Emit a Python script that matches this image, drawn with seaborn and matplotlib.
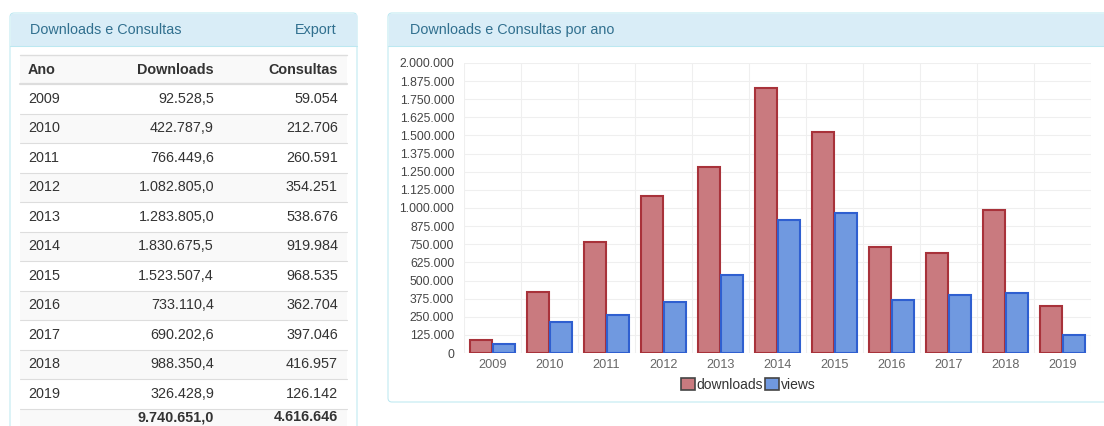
import numpy as np
import matplotlib
matplotlib.use("Agg")
import matplotlib.pyplot as plt
import pandas as pd
import seaborn as sns
from matplotlib.patches import FancyBboxPatch, Rectangle
from matplotlib.ticker import FuncFormatter, MultipleLocator

# dados da tabela / grafico
anos = ["2009", "2010", "2011", "2012", "2013", "2014", "2015", "2016", "2017", "2018", "2019"]
downloads = [92528.5, 422787.9, 766449.6, 1082805.0, 1283805.0, 1830675.5,
             1523507.4, 733110.4, 690202.6, 988350.4, 326428.9]
consultas = [59054, 212706, 260591, 354251, 538676, 919984,
             968535, 362704, 397046, 416957, 126142]
total_downloads = "9.740.651,0"
total_consultas = "4.616.646"
series = ["downloads", "views"]

sns.set_theme(style="white")
plt.rcParams["font.family"] = ["Liberation Sans", "DejaVu Sans"]


def fmt_br(v, casas=0):
    s = f"{v:,.{casas}f}"
    return s.replace(",", "X").replace(".", ",").replace("X", ".")


W, H = 1104, 426
fig = plt.figure(figsize=(W / 100, H / 100), dpi=100)
fig.patch.set_facecolor("white")

# fundo em coordenadas de pixel
bg = fig.add_axes([0, 0, 1, 1])
bg.set_xlim(0, W)
bg.set_ylim(H, 0)
bg.axis("off")

borda = "#bce8f1"
cab = "#d9edf7"
txt_cab = "#31708f"
fs = 10.4

# painel esquerdo
bg.add_patch(FancyBboxPatch((10, 13), 347, 440, boxstyle="round,pad=0,rounding_size=4",
                            fc="white", ec=borda, lw=0.75))
bg.add_patch(Rectangle((10.5, 13.5), 346, 33, fc=cab, ec="none"))
bg.plot([10, 357], [46, 46], color=borda, lw=0.75)
bg.text(30, 30, "Downloads e Consultas", fontsize=fs, color=txt_cab, va="center")
bg.text(337, 30, "Export", fontsize=fs, color=txt_cab, va="center", ha="right")

# tabela
x0, x1 = 20, 347
top_cab = 55
alt = 29.5
bg.add_patch(Rectangle((x0, top_cab), x1 - x0, 84 - top_cab, fc="#f9f9f9", ec="none"))
bg.plot([x0, x1], [top_cab, top_cab], color="#dddddd", lw=1)
bg.text(28, 70, "Ano", fontsize=fs, weight="bold", color="#333333", va="center")
bg.text(214, 70, "Downloads", fontsize=fs, weight="bold", color="#333333", va="center", ha="right")
bg.text(338, 70, "Consultas", fontsize=fs, weight="bold", color="#333333", va="center", ha="right")

linhas = [(a, fmt_br(d, 1), fmt_br(c)) for a, d, c in zip(anos, downloads, consultas)]
linhas.append(("", total_downloads, total_consultas))
for i, (a, d, c) in enumerate(linhas):
    y = 84 + alt * i
    if i % 2 == 1:
        bg.add_patch(Rectangle((x0, y), x1 - x0, alt, fc="#f9f9f9", ec="none"))
    bg.plot([x0, x1], [y, y], color="#dddddd", lw=1.6 if i == 0 else 0.8)
    ultima = i == len(linhas) - 1
    peso = "bold" if ultima else "normal"
    yc = 417 if ultima else y + alt / 2
    bg.text(28, yc, a, fontsize=fs, color="#333333", va="center")
    bg.text(214, yc, d, fontsize=fs, color="#333333", va="center", ha="right", weight=peso)
    bg.text(338, yc, c, fontsize=fs, color="#333333", va="center", ha="right", weight=peso)

# painel direito
bg.add_patch(FancyBboxPatch((388, 13), 740, 389, boxstyle="round,pad=0,rounding_size=4",
                            fc="white", ec=borda, lw=0.75))
bg.add_patch(Rectangle((388.5, 13.5), 740, 33, fc=cab, ec="none"))
bg.plot([388, 1104], [46, 46], color=borda, lw=0.75)
bg.text(410, 30, "Downloads e Consultas por ano", fontsize=fs, color=txt_cab, va="center")

# grafico de barras
left, right, y0, ytop = 464, 1091, 353, 63
ax = fig.add_axes([left / W, (H - y0) / H, (right - left) / W, (y0 - ytop) / H])

df = pd.DataFrame({
    "ano": anos * 2,
    "valor": downloads + consultas,
    "serie": ["downloads"] * len(anos) + ["views"] * len(anos),
})
fills = ["#c97a7f", "#7099e0"]
edges = ["#a8323a", "#2f5fd0"]
sns.barplot(data=df, x="ano", y="valor", hue="serie", hue_order=series,
            palette=fills, width=0.82, gap=0.05, saturation=1, legend=False, ax=ax)
for cont, ec in zip(ax.containers, edges):
    for p in cont:
        p.set_edgecolor(ec)
        p.set_linewidth(1.5)

ax.set_ylim(0, 2000000)
ax.set_xlim(-0.5, len(anos) - 0.5)
ax.yaxis.set_major_locator(MultipleLocator(125000))
ax.yaxis.set_major_formatter(FuncFormatter(lambda v, p: fmt_br(v)))
ax.set_xticks(np.arange(len(anos) + 1) - 0.5, minor=True)
ax.grid(axis="y", which="major", color="#efefef", lw=0.8)
ax.grid(axis="x", which="minor", color="#efefef", lw=0.8)
ax.set_axisbelow(True)
for s in ax.spines.values():
    s.set_visible(False)
ax.tick_params(axis="y", labelsize=8.8, colors="#444444", length=4, color="#e0e0e0", pad=3)
ax.tick_params(axis="x", which="major", labelsize=9.2, colors="#666666", length=0, pad=4)
ax.tick_params(axis="x", which="minor", length=3, color="#e0e0e0")
ax.set_xlabel("")
ax.set_ylabel("")

leg = ax.legend(ax.containers, series, loc="center", ncol=2, frameon=False, fontsize=10,
                handlelength=1.0, handleheight=1.0, handletextpad=0.1,
                columnspacing=0.2, borderaxespad=0)
leg.set_bbox_to_anchor((748 / W, (H - 385) / H), transform=fig.transFigure)
for h in leg.legend_handles:
    h.set_edgecolor("#444444")
    h.set_linewidth(1.2)
for t in leg.get_texts():
    t.set_color("#333333")

fig.savefig("out.png", dpi=100)
